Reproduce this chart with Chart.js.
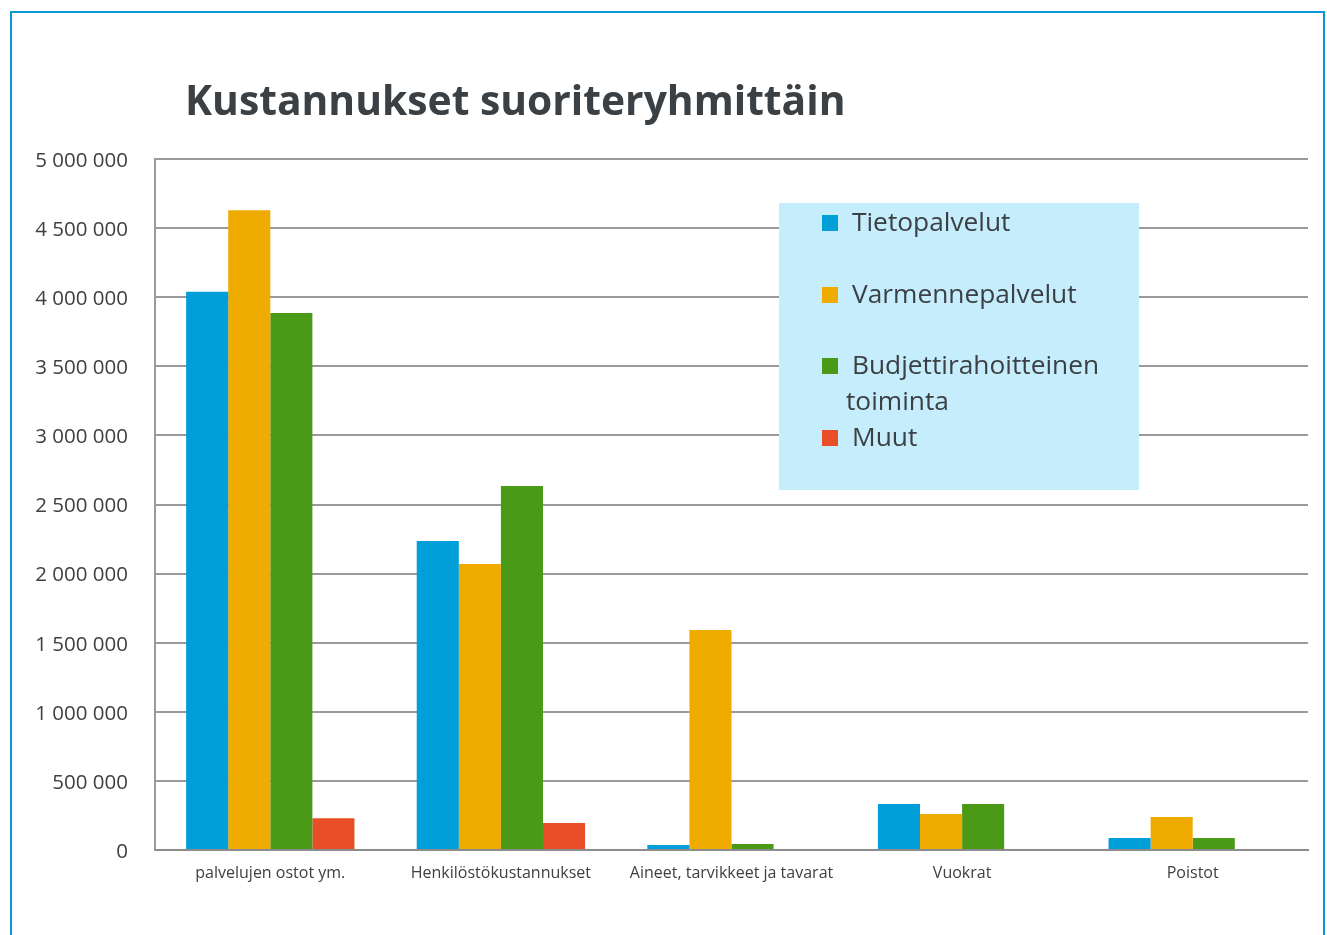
<!DOCTYPE html>
<html><head><meta charset="utf-8">
<script src="https://cdn.jsdelivr.net/npm/chart.js@4/dist/chart.umd.min.js"></script>
<style>
html,body{margin:0;padding:0;background:#fff;width:1327px;height:935px;overflow:hidden;font-family:"Open Sans",sans-serif;}
#frame{position:absolute;left:10px;top:11px;width:1315px;height:1000px;border:2px solid #0e98d3;box-sizing:border-box;}
#wrap{position:absolute;left:0;top:0;width:1327px;height:935px;}
#title{position:absolute;left:185px;top:71px;margin:0;font-family:"Open Sans",sans-serif;font-weight:700;font-size:40.8px;color:#3b4044;white-space:nowrap;letter-spacing:0px;}
#legend{position:absolute;left:779px;top:203px;width:360px;height:287px;background:#c6edfc;}
.item{position:absolute;left:43px;font-size:26.3px;color:#3b4044;line-height:36px;white-space:nowrap;}
.sw{display:inline-block;width:16px;height:16px;margin-right:14px;vertical-align:0px;}
</style></head>
<body>
<div id="wrap"><canvas id="c" width="1327" height="935"></canvas></div>
<div id="frame"></div>
<h1 id="title">Kustannukset suoriteryhmittäin</h1>
<div id="legend"></div>
<script>
const categories = ["palvelujen ostot ym.", "Henkilöstökustannukset", "Aineet, tarvikkeet ja tavarat", "Vuokrat", "Poistot"];
const seriesNames = ["Tietopalvelut", "Varmennepalvelut", "Budjettirahoitteinen toiminta", "Muut"];
const tietopalvelut = [4040000, 2236000, 36000, 333000, 87000];
const varmennepalvelut = [4630000, 2070000, 1592000, 260000, 239000];
const budjettirahoitteinen = [3886000, 2634000, 43000, 333000, 87000];
const muut = [230000, 195000, 8000, 0, 0];
const yTicks = [0, 500000, 1000000, 1500000, 2000000, 2500000, 3000000, 3500000, 4000000, 4500000, 5000000];
const colors = ["#009fda", "#f0ab00", "#4a9a17", "#e84f27"];

const values = [tietopalvelut, varmennepalvelut, budjettirahoitteinen, muut];
const fmt = v => String(v).replace(/\B(?=(\d{3})+(?!\d))/g, " ");

const legend = document.getElementById("legend");
const tops = [0, 72, 143, 215];
seriesNames.forEach((n, i) => {
  const d = document.createElement("div");
  d.className = "item";
  d.style.top = (tops[i]) + "px";
  if (i === 2) {
    d.innerHTML = '<span class="sw" style="background:' + colors[i] + '"></span>Budjettirahoitteinen<br><span style="margin-left:24px">toiminta</span>';
  } else {
    d.innerHTML = '<span class="sw" style="background:' + colors[i] + '"></span>' + n;
  }
  legend.appendChild(d);
});

new Chart(document.getElementById("c"), {
  type: "bar",
  data: {
    labels: categories,
    datasets: seriesNames.map((n, i) => ({
      label: n, data: values[i], backgroundColor: colors[i], borderWidth: 0,
      categoryPercentage: 0.73, barPercentage: 1.0
    }))
  },
  options: {
    responsive: false, animation: false,
    layout: { padding: { left: 0, top: 159, right: 19, bottom: 0 } },
    plugins: { legend: { display: false }, tooltip: { enabled: false }, title: { display: false } },
    scales: {
      x: {
        grid: { display: false },
        border: { display: true, color: "#8c8c8c", width: 2 },
        ticks: { color: "#404040", font: { family: "Open Sans", size: 16 }, padding: 6, maxRotation: 0 },
        afterFit: s => { s.height = 85; }
      },
      y: {
        min: 0, max: 5000000,
        afterBuildTicks: s => { s.ticks = yTicks.map(v => ({ value: v })); },
        grid: { color: "#9a9a9a", lineWidth: 2, drawTicks: false },
        border: { display: true, color: "#9a9a9a", width: 2 },
        ticks: { color: "#404040", font: { family: "Open Sans", size: 20.5 }, padding: 27, labelOffset: 2, callback: v => fmt(v) },
        afterFit: s => { s.width = 155; }
      }
    }
  }
});
</script>
</body></html>
